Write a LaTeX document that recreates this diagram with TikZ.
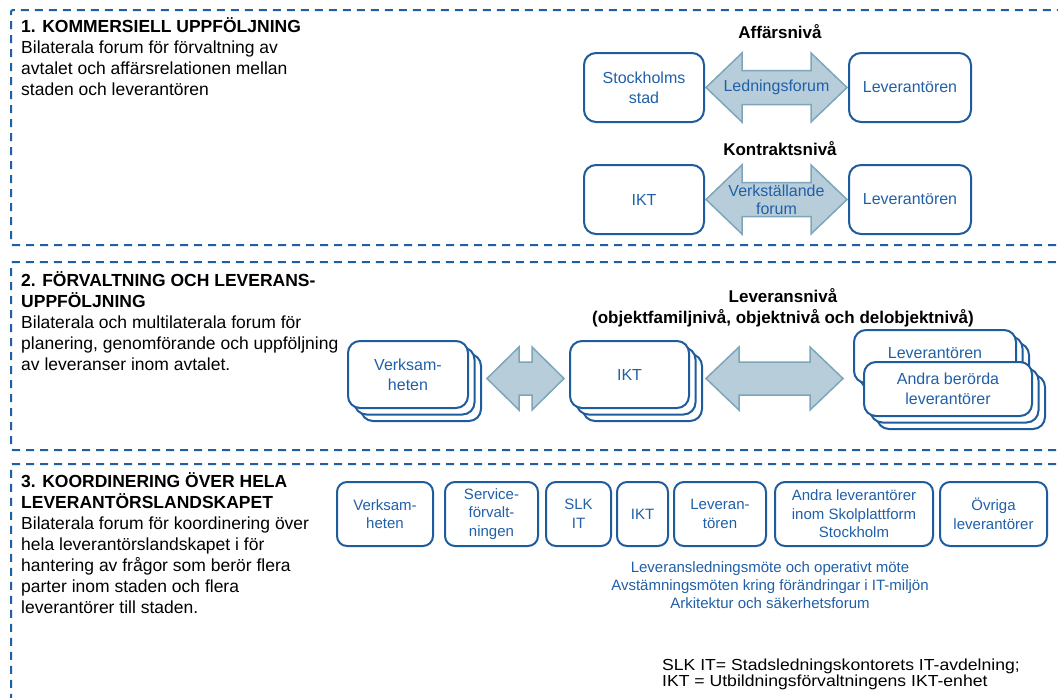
\documentclass[tikz,border=0pt]{standalone}
\usepackage{fontspec}
\setmainfont{Liberation Sans}
\newfontfamily\footfont[FakeStretch=1.1]{Liberation Sans}
\usetikzlibrary{calc}
\definecolor{frameblue}{HTML}{1F5FA3}
\definecolor{boxblue}{HTML}{1F5C9E}
\definecolor{txtblue}{HTML}{2160A8}
\definecolor{arrfill}{HTML}{B7CDDA}
\definecolor{arrdraw}{HTML}{7EA6B8}
\tikzset{
  frame/.style={draw=frameblue, line width=2pt, dash pattern=on 8pt off 6pt, rounded corners=2pt},
  card/.style={draw=boxblue, line width=2pt, fill=white, rounded corners=12pt, inner sep=0pt, outer sep=0pt,
    align=center, text=txtblue, font=\fontsize{16}{20}\selectfont},
  smallcard/.style={card, rounded corners=10pt, minimum height=64pt, font=\fontsize{15}{18.5}\selectfont},
  fatarrow/.style={draw=arrdraw, line width=1.5pt, fill=arrfill, line join=miter},
  arrlabel/.style={text=txtblue, align=center, font=\fontsize{16}{18}\selectfont, inner sep=0pt},
  levelhead/.style={font=\bfseries\fontsize{17}{21}\selectfont, align=center, inner sep=0pt},
  sectext/.style={anchor=base west, align=left, inner sep=0pt, font=\fontsize{17.5}{21}\selectfont},
}
\newcommand\fatarrow[5]{\draw[fatarrow] let \p1=(#1), \p2=(#2) in
  (\x1,\y1) -- (\x1+#5,\y1+#3) -- (\x1+#5,\y1+#4) -- (\x2-#5,\y1+#4) -- (\x2-#5,\y1+#3) --
  (\x2,\y1) -- (\x2-#5,\y1-#3) -- (\x2-#5,\y1-#4) -- (\x1+#5,\y1-#4) -- (\x1+#5,\y1-#3) -- cycle;}
\begin{document}
\begin{tikzpicture}[x=1pt,y=-1pt]
\useasboundingbox (0,0) rectangle (1058,697);
\fill[white] (0,0) rectangle (1058,697);

% section frames
\draw[frame] (1070,245) -- (11,245) -- (11,10) -- (1070,10);
\draw[frame] (1070,450) -- (11,450) -- (11,262) -- (1070,262);
\draw[frame] (1070,464) -- (11,464) -- (11,710);

% left texts (anchored at the baseline of their last line)
\node[sectext] (t1) at (21,95.7) {\textbf{1. KOMMERSIELL UPPFÖLJNING}\\Bilaterala forum för förvaltning av\\avtalet och affärsrelationen mellan\\staden och leverantören};
\node[sectext] (t2) at (21,370.7) {\textbf{2. FÖRVALTNING OCH LEVERANS-}\\\textbf{UPPFÖLJNING}\\Bilaterala och multilaterala forum för\\planering, genomförande och uppföljning\\av leveranser inom avtalet.};
\node[sectext] (t3) at (21,613.3) {\textbf{3. KOORDINERING ÖVER HELA}\\\textbf{LEVERANTÖRSLANDSKAPET}\\Bilaterala forum för koordinering över\\hela leverantörslandskapet i för\\hantering av frågor som berör flera\\parter inom staden och flera\\leverantörer till staden.};

% section 1
\node[levelhead] (h1) at (780,32) {Affärsnivå};
\node[card, minimum width=120pt, minimum height=69pt] (s1a) at (644,87.5) {Stockholms\\stad};
\node[card, minimum width=122pt, minimum height=69pt] (s1b) at (910,87.5) {Leverantören};
\coordinate (a1) at ($(s1a.east)+(2,0)$);
\coordinate (a2) at ($(s1b.west)+(-2,0)$);
\fatarrow{a1}{a2}{34.5pt}{17pt}{36pt}
\node[arrlabel] (lf) at ($(a1)!0.5!(a2)$) {Ledningsforum};

\node[levelhead] (h2) at (780,149) {Kontraktsnivå};
\node[card, minimum width=120pt, minimum height=69pt] (s1c) at (644,199.5) {IKT};
\node[card, minimum width=122pt, minimum height=69pt] (s1d) at (910,199.5) {Leverantören};
\coordinate (a3) at ($(s1c.east)+(2,0)$);
\coordinate (a4) at ($(s1d.west)+(-2,0)$);
\fatarrow{a3}{a4}{34.5pt}{17pt}{36pt}
\node[arrlabel] (vf) at ($(a3)!0.5!(a4)$) {Verkställande\\forum};

% section 2
\node[levelhead] (h3) at (783,307.5) {Leveransnivå\\(objektfamiljnivå, objektnivå och delobjektnivå)};

\node[card, minimum width=120pt, minimum height=67pt] (v3) at (421,387.5) {};
\node[card, minimum width=120pt, minimum height=67pt] (v2) at (414.5,381) {};
\node[card, minimum width=120pt, minimum height=67pt] (v) at (408,374.5) {Verksam-\\heten};

\node[card, minimum width=119pt, minimum height=67pt] (i3) at (642.5,387.5) {};
\node[card, minimum width=119pt, minimum height=67pt] (i2) at (636,381) {};
\node[card, minimum width=119pt, minimum height=67pt] (i) at (629.5,374.5) {IKT};

\node[card, minimum width=162pt, minimum height=53pt] (l3) at (948,369.5) {};
\node[card, minimum width=162pt, minimum height=53pt] (l2) at (941.5,363) {};
\node[card, minimum width=162pt, minimum height=53pt] (l) at (935,356.5) {\raisebox{8pt}{Leverantören}};

\node[card, minimum width=168pt, minimum height=54pt] (o3) at (961,402) {};
\node[card, minimum width=168pt, minimum height=54pt] (o2) at (954.5,395.5) {};
\node[card, minimum width=168pt, minimum height=54pt] (o) at (948,389) {Andra berörda\\leverantörer};

\coordinate (b1) at ($(v.east)+(19,4)$);
\coordinate (b2) at ($(i.west)+(-6,4)$);
\fatarrow{b1}{b2}{31.5pt}{16.5pt}{32pt}
\coordinate (b3) at ($(i.east)+(17,4)$);
\coordinate (b4) at ($(l.west)+(-11,22)$);
\fatarrow{b3}{b4}{31.5pt}{16.5pt}{33pt}

% section 3
\node[smallcard, minimum width=96pt] (c1) at (385,514) {Verksam-\\heten};
\node[smallcard, minimum width=93pt] (c2) at (491.5,514) {Service-\\förvalt-\\ningen};
\node[smallcard, minimum width=65pt] (c3) at (578.5,514) {SLK\\IT};
\node[smallcard, minimum width=51pt] (c4) at (642.5,514) {IKT};
\node[smallcard, minimum width=92pt] (c5) at (720,514) {Leveran-\\tören};
\node[smallcard, minimum width=158pt] (c6) at (854,514) {Andra leverantörer\\inom Skolplattform\\Stockholm};
\node[smallcard, minimum width=107pt] (c7) at (993.5,514) {Övriga\\leverantörer};

\node[text=txtblue, align=center, inner sep=0pt, font=\fontsize{15}{18}\selectfont] (cap) at (770,585) {Leveransledningsmöte och operativt möte\\Avstämningsmöten kring förändringar i IT-miljön\\Arkitektur och säkerhetsforum};

\node[anchor=base west, align=left, inner sep=0pt, font=\footfont\fontsize{16}{16.7}\selectfont] (fn) at (662,686.7) {SLK IT= Stadsledningskontorets IT-avdelning;\\IKT = Utbildningsförvaltningens IKT-enhet};
\end{tikzpicture}
\end{document}
